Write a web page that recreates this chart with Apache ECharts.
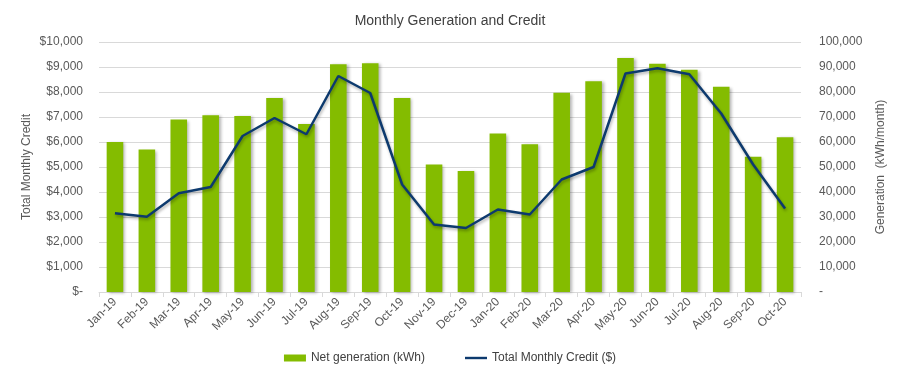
<!DOCTYPE html>
<html><head><meta charset="utf-8">
<script src="https://cdn.jsdelivr.net/npm/echarts@6/dist/echarts.min.js"></script>
<style>html,body{margin:0;padding:0;background:#fff}#c{width:900px;height:377px}</style>
</head><body><div id="c"></div>
<script>
const months = ['Jan-19','Feb-19','Mar-19','Apr-19','May-19','Jun-19','Jul-19','Aug-19','Sep-19','Oct-19','Nov-19','Dec-19','Jan-20','Feb-20','Mar-20','Apr-20','May-20','Jun-20','Jul-20','Aug-20','Sep-20','Oct-20'];
const netGeneration = [60000,57000,69000,70700,70400,77600,67200,91100,91500,77600,51000,48400,63400,59100,79700,84300,93600,91300,88900,82100,54100,61900];
const monthlyCredit = [3150,3010,3950,4200,6240,6960,6310,8640,7960,4300,2700,2560,3300,3100,4500,5000,8740,8950,8710,7140,5100,3340];
const font = 'Liberation Sans, Arial, sans-serif';
const chart = echarts.init(document.getElementById('c'));
chart.setOption({
  animation:false,
  textStyle:{fontFamily:font},
  title:{text:'Monthly Generation and Credit',left:'center',top:9,textStyle:{fontFamily:font,fontSize:14,fontWeight:'normal',color:'#404040'}},
  legend:{bottom:8,left:'center',itemGap:40,itemWidth:22,itemHeight:7,textStyle:{fontFamily:font,fontSize:12,color:'#404040'},
    data:[{name:'Net generation (kWh)',icon:'rect'},{name:'Total Monthly Credit ($)',icon:'path://M0,0 L22,0 L22,2.4 L0,2.4 Z'}]},
  grid:{left:99,right:99,top:42,bottom:85},
  xAxis:{type:'category',data:months,boundaryGap:true,
    axisLine:{lineStyle:{color:'#d9d9d9'}},axisTick:{show:true,length:5,lineStyle:{color:'#d9d9d9'}},
    axisLabel:{rotate:45,fontSize:12,color:'#595959',fontFamily:font,margin:8,interval:0}},
  yAxis:[
    {type:'value',min:0,max:10000,interval:1000,name:'Total Monthly Credit',nameLocation:'middle',nameGap:66,nameRotate:90,nameMoveOverlap:false,
     nameTextStyle:{fontSize:12,color:'#595959',fontFamily:font},
     axisLabel:{fontSize:12,color:'#595959',fontFamily:font,margin:16,formatter:v=>v===0?'$-':'$'+v.toLocaleString('en-US')},
     splitLine:{lineStyle:{color:'#d9d9d9'}},axisLine:{show:false},axisTick:{show:false}},
    {type:'value',min:0,max:100000,interval:10000,name:'Generation  (kWh/month)',nameLocation:'middle',nameGap:74,nameRotate:90,nameMoveOverlap:false,
     nameTextStyle:{fontSize:12,color:'#595959',fontFamily:font},
     axisLabel:{fontSize:12,color:'#595959',fontFamily:font,margin:18,formatter:v=>v===0?'-':v.toLocaleString('en-US')},
     splitLine:{show:false},axisLine:{show:false},axisTick:{show:false}}
  ],
  series:[
    {name:'Net generation (kWh)',type:'bar',yAxisIndex:1,data:netGeneration,barWidth:'52%',
     itemStyle:{color:'#84bc00',shadowColor:'rgba(0,0,0,0.3)',shadowBlur:3,shadowOffsetX:2,shadowOffsetY:1}},
    {name:'Total Monthly Credit ($)',type:'line',yAxisIndex:0,data:monthlyCredit,symbol:'none',
     lineStyle:{color:'#0d3a6e',width:2.5,shadowColor:'rgba(0,0,0,0.3)',shadowBlur:3,shadowOffsetX:1,shadowOffsetY:2},
     itemStyle:{color:'#0d3a6e'}}
  ]
});
</script></body></html>
